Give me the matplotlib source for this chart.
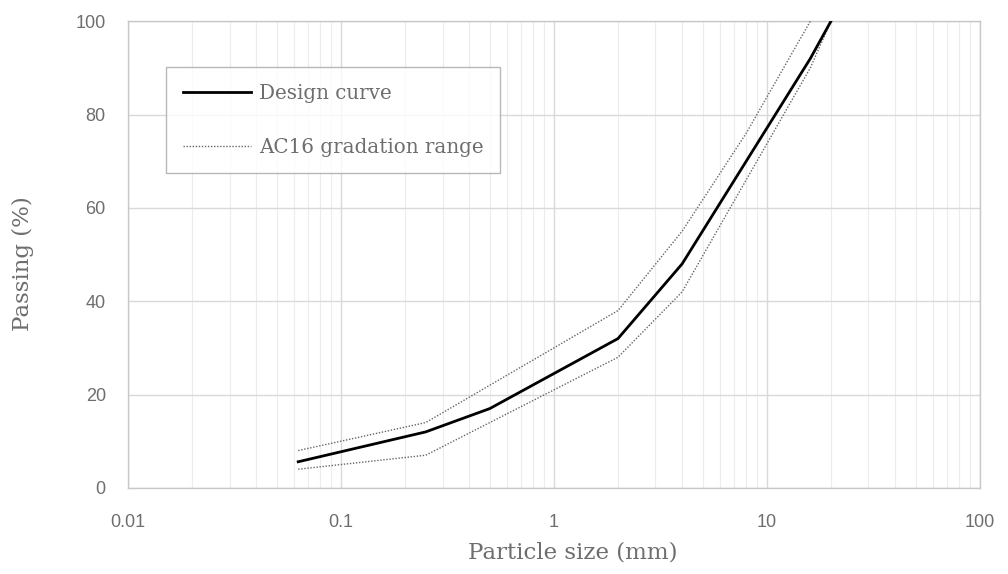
import matplotlib
matplotlib.use("Agg")
import matplotlib.pyplot as plt
from matplotlib.ticker import LogLocator, FixedLocator, FuncFormatter, NullFormatter

# Sieve sizes (mm) and percent passing
SIZES       = [0.063, 0.25, 0.5, 1, 2, 4, 8, 16, 20]
DESIGN      = [5.6, 12, 17, 24.5, 32, 48, 70, 92, 100]
UPPER_SIZES = [0.063, 0.25, 0.5, 1, 2, 4, 8, 16]
UPPER       = [8, 14, 22, 30, 38, 55, 76, 100]
LOWER       = [4, 7, 14, 21, 28, 42, 66, 90, 100]

X_TICKS = [0.01, 0.1, 1, 10, 100]
Y_TICKS = [0, 20, 40, 60, 80, 100]

GRID_MAJOR = "#d9d9d9"
GRID_MINOR = "#ececec"
TXT = "#6e6e6e"

fig = plt.figure(figsize=(10.08, 5.74), dpi=100)
ax = fig.add_axes([0.127, 0.150, 0.845, 0.813])

ax.plot(SIZES, DESIGN, color="black", lw=2.0, label="Design curve", zorder=4)
ax.plot(UPPER_SIZES, UPPER, color="#666666", lw=1.0, ls=(0, (1, 1.2)),
        label="AC16 gradation range", zorder=3)
ax.plot(SIZES, LOWER, color="#666666", lw=1.0, ls=(0, (1, 1.2)), zorder=3)

ax.set_xscale("log")
ax.set_xlim(0.01, 100)
ax.set_ylim(0, 100)
ax.xaxis.set_major_locator(FixedLocator(X_TICKS))
ax.xaxis.set_major_formatter(FuncFormatter(lambda v, p: f"{v:g}"))
ax.xaxis.set_minor_locator(LogLocator(base=10, subs=range(2, 10)))
ax.xaxis.set_minor_formatter(NullFormatter())
ax.set_yticks(Y_TICKS)

ax.grid(True, which="major", color=GRID_MAJOR, lw=1.0)
ax.grid(True, which="minor", axis="x", color=GRID_MINOR, lw=0.8)
ax.set_axisbelow(True)

for s in ax.spines.values():
    s.set_color("#c8c8c8")
    s.set_linewidth(1.0)

ax.tick_params(which="both", length=0, labelcolor=TXT, labelsize=13)
ax.tick_params(axis="y", pad=16)
ax.tick_params(axis="x", pad=19)
for lab in ax.get_xticklabels() + ax.get_yticklabels():
    lab.set_family("Liberation Sans")

ax.set_xlabel("Particle size (mm)", fontsize=16.5, color=TXT,
              family="DejaVu Serif", labelpad=3)
ax.xaxis.set_label_coords(0.522, -0.115)
ax.set_ylabel("Passing (%)", fontsize=16.5, color=TXT,
              family="DejaVu Serif", labelpad=14)
ax.yaxis.set_label_coords(-0.11, 0.48)

leg = ax.legend(loc="upper left", bbox_to_anchor=(0.045, 0.902),
                prop={"family": "DejaVu Serif", "size": 14.3},
                frameon=True, fancybox=False, handlelength=3.4,
                handletextpad=0.4, labelspacing=1.75, borderpad=0.85,
                borderaxespad=0)
leg.get_frame().set_edgecolor("#a6a6a6")
leg.get_frame().set_linewidth(1.0)
for t in leg.get_texts():
    t.set_color(TXT)

fig.savefig("out.png", dpi=100)
